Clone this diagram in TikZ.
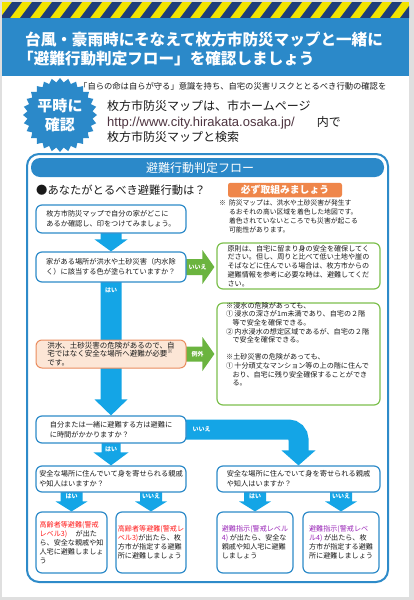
\documentclass[tikz,border=0pt]{standalone}
\usepackage{fontspec}
\setmainfont{Noto Sans CJK JP}
\newfontfamily\urlfont{Liberation Sans}
\usetikzlibrary{calc,backgrounds,shapes.geometric}
\definecolor{band}{HTML}{2B89C9}
\definecolor{navy}{HTML}{1E3D7A}
\definecolor{hazy}{HTML}{F2E300}
\definecolor{bbord}{HTML}{2E8BC9}
\definecolor{flowc}{HTML}{14A5E6}
\definecolor{grn}{HTML}{6BB43F}
\definecolor{grnb}{HTML}{7DC04E}
\definecolor{orgf}{HTML}{FCE6D6}
\definecolor{orgb}{HTML}{EA8C5E}
\definecolor{tagc}{HTML}{EF864A}
\definecolor{txt}{HTML}{1A1A1A}
\definecolor{redt}{HTML}{FF1A1A}
\definecolor{purt}{HTML}{9A27B8}
\definecolor{urlc}{HTML}{4E3440}
\newcommand\fsz[2]{\fontsize{#1}{#2}\selectfont}
% vertical arrow: style, source, target, shaft half, head half, head length
\newcommand\vflow[6]{%
 \path[#1] let \p1=(#2), \p2=(#3) in
 (\x2-#4,\y1+2pt) -- (\x2-#4,\y2+#6) -- (\x2-#5,\y2+#6) -- (\x2,\y2)
 -- (\x2+#5,\y2+#6) -- (\x2+#4,\y2+#6) -- (\x2+#4,\y1+2pt) -- cycle;}
% horizontal arrow
\newcommand\hflow[6]{%
 \path[#1] let \p1=(#2), \p2=(#3) in
 (\x1-2pt,\y1+#4) -- (\x2-#6,\y1+#4) -- (\x2-#6,\y1+#5) -- (\x2,\y1)
 -- (\x2-#6,\y1-#5) -- (\x2-#6,\y1-#4) -- (\x1-2pt,\y1-#4) -- cycle;}
\tikzset{
 qbox/.style={draw=bbord, line width=1.2pt, rounded corners=6pt, fill=white, inner sep=0pt, align=left, text=txt, font=\fsz{7.2}{9.6}},
 rbox/.style={qbox, font=\fsz{7.1}{9}},
 gbox/.style={draw=grnb, line width=1.2pt, rounded corners=6pt, fill=white, inner sep=0pt, align=left, text=txt, font=\fsz{7.1}{8.8}},
 obox/.style={draw=orgb, line width=1pt, rounded corners=6pt, fill=orgf, inner sep=0pt, align=left, text=txt, font=\fsz{7.5}{8.6}},
 albl/.style={text=white, inner sep=0pt, font=\bfseries\fsz{6}{6}},
 flowfill/.style={fill=flowc},
 grnfill/.style={fill=grn},
}
\begin{document}
\begin{tikzpicture}[x=1pt,y=-1pt]
\useasboundingbox (0,0) rectangle (414,600);
% ---- page background ----
\begin{scope}[on background layer]
 \fill[gray!25] (0,0) rectangle (414,600);
 \fill[white] (2,2) rectangle (409,597);
 \begin{scope}
  \clip (2,2) rectangle (409,18);
  \fill[hazy] (2,2) rectangle (409,18);
  \foreach \x in {-20,0,...,420} \fill[navy] (\x,18) -- (\x+10,18) -- (\x+22,2) -- (\x+12,2) -- cycle;
 \end{scope}
 \fill[band] (2,18) rectangle (409,76);
 \draw[bbord, line width=2pt, rounded corners=12pt, fill=white] (27,154) rectangle (388,582);
 \fill[band, rounded corners=9pt] (31,158) rectangle (384,177);
\end{scope}

% ---- title & intro ----
\node[anchor=west, inner sep=0pt, align=left, text=white, font=\bfseries\fsz{15.6}{19}] (title) at (25,49.5)
 {台風・豪雨時にそなえて枚方市防災マップと一緒に\\\hspace*{-7pt}「避難行動判定フロー」を確認しましょう};
\node[star, star points=28, star point ratio=1.13, fill=band, minimum size=74pt, inner sep=0pt] (burst) at (60,115) {};
\node[text=white, align=center, font=\bfseries\fsz{15}{19}] (bursttxt) at (60,115) {平時に\\確認};
\node[anchor=west, inner sep=0pt, text=txt, font=\fsz{8.3}{9}] (intro) at (79,86)
 {「自らの命は自らが守る」意識を持ち、自宅の災害リスクととるべき行動の確認を};
\node[anchor=west, inner sep=0pt, align=left, text=txt, font=\fsz{12}{15.5}] (mapinfo) at (107,121.5)
 {枚方市防災マップは、市ホームページ\\{\urlfont\fontsize{13}{15.5}\selectfont\color{urlc}http://www.city.hirakata.osaka.jp/}\hspace{22pt}内で\\枚方市防災マップと検索};

% ---- flow header ----
\node[text=white, inner sep=0pt, font=\fsz{12}{12}] (hdrtxt) at (200,167.5) {避難行動判定フロー};
\node[anchor=west, inner sep=0pt, text=txt, font=\fsz{11.3}{13}] (qhead) at (36,190) {●あなたがとるべき避難行動は？};
\node[fill=tagc, rounded corners=2.5pt, minimum width=114pt, minimum height=14.5pt, inner sep=0pt, text=white, font=\bfseries\fsz{9.8}{10}] (tag) at (285,190) {必ず取組みましょう};
\node[anchor=north west, inner sep=0pt, align=left, text=txt, font=\fsz{6.8}{9}] (note) at (219,199.5)
 {※\hspace{3pt}防災マップは、洪水や土砂災害が発生す\\\hspace*{9.8pt}るおそれの高い区域を着色した地図です。\\\hspace*{9.8pt}着色されていないところでも災害が起こる\\\hspace*{9.8pt}可能性があります。};

% ---- flow boxes ----
\node[qbox, minimum width=150pt, minimum height=28pt] (b1) at (111,219)
 {枚方市防災マップで自分の家がどこに\\あるか確認し、印をつけてみましょう。};
\node[qbox, minimum width=150pt, minimum height=30pt] (b2) at (111,267)
 {家がある場所が洪水や土砂災害（内水除\\く）に該当する色が塗られていますか？};
\node[obox, minimum width=150pt, minimum height=28pt] (o1) at (111,354)
 {洪水、土砂災害の危険があるので、自\\宅ではなく安全な場所へ避難が必要\textsuperscript{※}\\です。};
\node[qbox, minimum width=150pt, minimum height=27pt] (b3) at (111,429.5)
 {自分または一緒に避難する方は避難に\\に時間がかかりますか？};
\node[qbox, minimum width=150pt, minimum height=26pt] (b4) at (111,479)
 {安全な場所に住んでいて身を寄せられる親戚\\や知人はいますか？};
\node[qbox, minimum width=163pt, minimum height=26pt] (b5) at (298.5,479)
 {安全な場所に住んでいて身を寄せられる親戚\\や知人はいますか？};
\node[gbox, minimum width=163pt, minimum height=46pt] (g1) at (298.5,266)
 {原則は、自宅に留まり身の安全を確保してく\\ださい。但し、周りと比べて低い土地や崖の\\そばなどに住んでいる場合は、枚方市からの\\避難情報を参考に必要な時は、避難してくだ\\さい。};
\node[gbox, minimum width=163pt, minimum height=102pt] (g2) at (298.5,354) {};
\node[anchor=north west, inner sep=0pt, align=left, text=txt, font=\fsz{7.1}{8.6}] (g2t) at (226,302)
 {※浸水の危険があっても、\\
 ①\,浸水の深さが1m未満であり、自宅の２階\\
 \hspace*{0.9em}等で安全を確保できる。\\
 ②\,内水浸水の想定区域であるが、自宅の２階\\
 \hspace*{0.9em}で安全を確保できる。\\[8.6pt]
 ※土砂災害の危険があっても、\\
 ①\,十分頑丈なマンション等の上の階に住んで\\
 \hspace*{0.9em}おり、自宅に残り安全確保することができ\\
 \hspace*{0.9em}る。};
\node[rbox, minimum width=71pt, minimum height=61pt] (c1) at (71.5,542.5)
 {{\color{redt}高齢者等避難(警戒}\\{\color{redt}レベル3)}\hspace{1.2em}が出た\\ら、安全な親戚や知\\人宅に避難しましょ\\う};
\node[rbox, minimum width=70pt, minimum height=61pt] (c2) at (151,542.5)
 {{\color{redt}高齢者等避難(警戒レ}\\{\color{redt}ベル3)}が出たら、枚\\方市が指定する避難\\所に避難しましょう};
\node[rbox, minimum width=76pt, minimum height=61pt] (c3) at (255,542.5)
 {{\color{purt}避難指示(警戒レベル}\\{\color{purt}4)} が出たら、安全な\\親戚や知人宅に避難\\しましょう};
\node[rbox, minimum width=76pt, minimum height=61pt] (c4) at (341,542.5)
 {{\color{purt}避難指示(警戒レベ}\\{\color{purt}ル4)} が出たら、枚\\方市が指定する避難\\所に避難しましょう};

% ---- connectors ----
\begin{scope}[on background layer]
 \vflow{flowfill}{b1.south}{b2.north}{10.5pt}{16.5pt}{12pt}
 \vflow{flowfill}{b2.south}{b3.north}{10.5pt}{16.5pt}{16pt}
 \vflow{flowfill}{b3.south}{b4.north}{9.5pt}{17.5pt}{13pt}
 \vflow{flowfill}{b4.south}{c1.north}{11pt}{16pt}{10pt}
 \vflow{flowfill}{b4.south}{c2.north}{11pt}{16pt}{10pt}
 \vflow{flowfill}{b5.south}{c3.north}{11pt}{16pt}{10pt}
 \vflow{flowfill}{b5.south}{c4.north}{11pt}{16pt}{10pt}
 \hflow{grnfill}{b2.east}{$(g1.west)+(-2,0)$}{8pt}{17pt}{12pt}
 \hflow{grnfill}{o1.east}{$(g2.west)+(-2,0)$}{7.5pt}{17pt}{12pt}
 \draw[flowc, line width=20pt, rounded corners=10pt] let \p1=(b3.east), \p2=(b5.north) in
  (\x1-4pt,\y1) -- (\x2,\y1) -- (\x2,\y2+14pt);
 \fill[flowc] let \p2=(b5.north) in (\x2-17pt,\y2+15pt) -- (\x2,\y2) -- (\x2+17pt,\y2+15pt) -- cycle;
\end{scope}

% ---- connector labels ----
\node[albl] (l1) at ($(b2.south)+(0,8)$) {はい};
\node[albl] (l2) at ($(b2.east)+(11,0)$) {いいえ};
\node[albl] (l3) at ($(o1.east)+(11,0)$) {例外};
\node[albl] (l4) at ($(b3.east)+(15,0)$) {いいえ};
\node[albl] (l5) at ($(b3.south)+(0,6)$) {はい};
\node[albl] (l6) at ($(c1.north)+(0,-15)$) {はい};
\node[albl] (l7) at ($(c2.north)+(0,-15)$) {いいえ};
\node[albl] (l8) at ($(c3.north)+(0,-15)$) {はい};
\node[albl] (l9) at ($(c4.north)+(0,-15)$) {いいえ};
\end{tikzpicture}
\end{document}
